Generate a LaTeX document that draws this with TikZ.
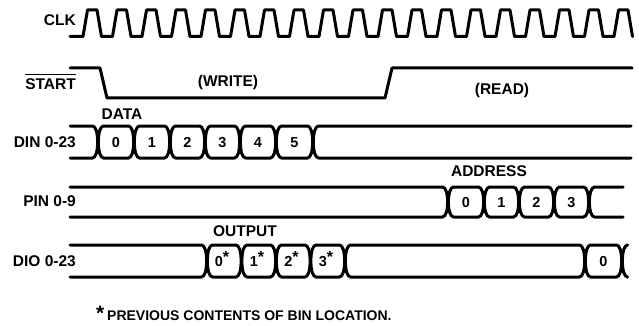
\documentclass[tikz,border=0pt]{standalone}
\usepackage{fontspec}
\setmainfont{Liberation Sans}
\def\w{5.5}
% closed data box between crossings #1 and #2, top #3, bottom #4
\newcommand\busbox[4]{%
  \draw[sig] (#1+0.4,{(#3+#4)/2}) .. controls (#1+0.4,#3+7) and (#1+2.2,#3) .. (#1+\w,#3)
    -- (#2-\w,#3) .. controls (#2-2.2,#3) and (#2-0.4,#3+7) .. (#2-0.4,{(#3+#4)/2})
    .. controls (#2-0.4,#4-7) and (#2-2.2,#4) .. (#2-\w,#4)
    -- (#1+\w,#4) .. controls (#1+2.2,#4) and (#1+0.4,#4-7) .. (#1+0.4,{(#3+#4)/2}) -- cycle;}
% open start #1 to crossing #2
\newcommand\busleft[4]{%
  \draw[sig] (#1,#3) -- (#2-\w,#3) .. controls (#2-2.2,#3) and (#2-0.4,#3+7) .. (#2-0.4,{(#3+#4)/2})
    .. controls (#2-0.4,#4-7) and (#2-2.2,#4) .. (#2-\w,#4) -- (#1,#4);}
% crossing #1 to open end #2
\newcommand\busright[4]{%
  \draw[sig] (#2,#3) -- (#1+\w,#3) .. controls (#1+2.2,#3) and (#1+0.4,#3+7) .. (#1+0.4,{(#3+#4)/2})
    .. controls (#1+0.4,#4-7) and (#1+2.2,#4) .. (#1+\w,#4) -- (#2,#4);}
\newcommand\sstar{\raisebox{3.5pt}{\fontsize{16}{16}\selectfont*}}
\begin{document}
\begin{tikzpicture}[x=1pt,y=-1pt,
  sig/.style={line width=3pt,line join=round,line cap=round},
  lbl/.style={font=\fontsize{15.5}{17}\selectfont\bfseries,inner sep=0pt},
  dig/.style={font=\fontsize{14.5}{16}\selectfont\bfseries,inner sep=0pt,anchor=base},
  foot/.style={font=\fontsize{14}{16}\selectfont\bfseries,inner sep=0pt,anchor=base west}]
\fill[white] (0,0) rectangle (639,326);
\useasboundingbox (0,0) rectangle (639,326);

% CLK
\node[lbl,anchor=base east] (clk) at (76,26) {CLK};
\draw[sig] (70,36.5) \foreach \k in {0,...,18} {
  -- ({83+29.5*\k},36.5) -- ({87.5+29.5*\k},10) -- ({97+29.5*\k},10) -- ({101.5+29.5*\k},36.5) };

% START
\node[lbl,anchor=base east] (start) at (76,90) {START};
\draw[line width=1.1pt] ([yshift=4.3pt]start.north west) -- ([yshift=4.3pt]start.north east);
\draw[sig] (70,68) -- (100,68) -- (107,98) -- (385,98) -- (392,68) -- (632,68);
\node[lbl,anchor=base] (write) at (228,87) {(WRITE)};
\node[lbl,anchor=base] (read) at (502,94.5) {(READ)};

% DIN
\node[lbl,anchor=base] (data) at (122,120) {DATA};
\node[lbl,anchor=base east] (din) at (76,147.3) {DIN 0-23};
\busleft{70}{98}{126}{158}
\busbox{98}{134}{126}{158}
\busbox{134}{170}{126}{158}
\busbox{170}{205}{126}{158}
\busbox{205}{240}{126}{158}
\busbox{240}{276}{126}{158}
\busbox{276}{313}{126}{158}
\busright{313}{631}{126}{158}
\node[dig] (d0) at (116,147.2) {0};
\node[dig] (d1) at (152,147.2) {1};
\node[dig] (d2) at (187.5,147.2) {2};
\node[dig] (d3) at (222.5,147.2) {3};
\node[dig] (d4) at (258,147.2) {4};
\node[dig] (d5) at (294.5,147.2) {5};

% PIN
\node[lbl,anchor=base] (addr) at (489,176.7) {ADDRESS};
\node[lbl,anchor=base east] (pin) at (76,206.5) {PIN 0-9};
\busleft{70}{448}{187}{217}
\busbox{448}{484}{187}{217}
\busbox{484}{519}{187}{217}
\busbox{519}{554}{187}{217}
\busbox{554}{589}{187}{217}
\busright{589}{623}{187}{217}
\node[dig] (p0) at (466,207.2) {0};
\node[dig] (p1) at (501.5,207.2) {1};
\node[dig] (p2) at (536.5,207.2) {2};
\node[dig] (p3) at (571.5,207.2) {3};

% DIO
\node[lbl,anchor=base] (out) at (245,236) {OUTPUT};
\node[lbl,anchor=base east] (dio) at (76,266.7) {DIO 0-23};
\busleft{70}{207}{245}{277}
\busbox{207}{241.5}{245}{277}
\busbox{241.5}{276}{245}{277}
\busbox{276}{310.5}{245}{277}
\busbox{310.5}{345}{245}{277}
\busbox{345}{585}{245}{277}
\busbox{585}{622}{245}{277}
\busright{622}{627}{245}{277}
\node[dig] (o0) at (222,266.2) {0\sstar};
\node[dig] (o1) at (257,266.2) {1\sstar};
\node[dig] (o2) at (291.5,266.2) {2\sstar};
\node[dig] (o3) at (326,266.2) {3\sstar};
\node[dig] (o4) at (603.5,266.2) {0};

% footnote
\node[foot,font=\fontsize{21}{21}\selectfont\bfseries] (fstar) at (96,320) {*};
\node[foot] (fnote) at (107,320) {PREVIOUS CONTENTS OF BIN LOCATION.};
\end{tikzpicture}
\end{document}
